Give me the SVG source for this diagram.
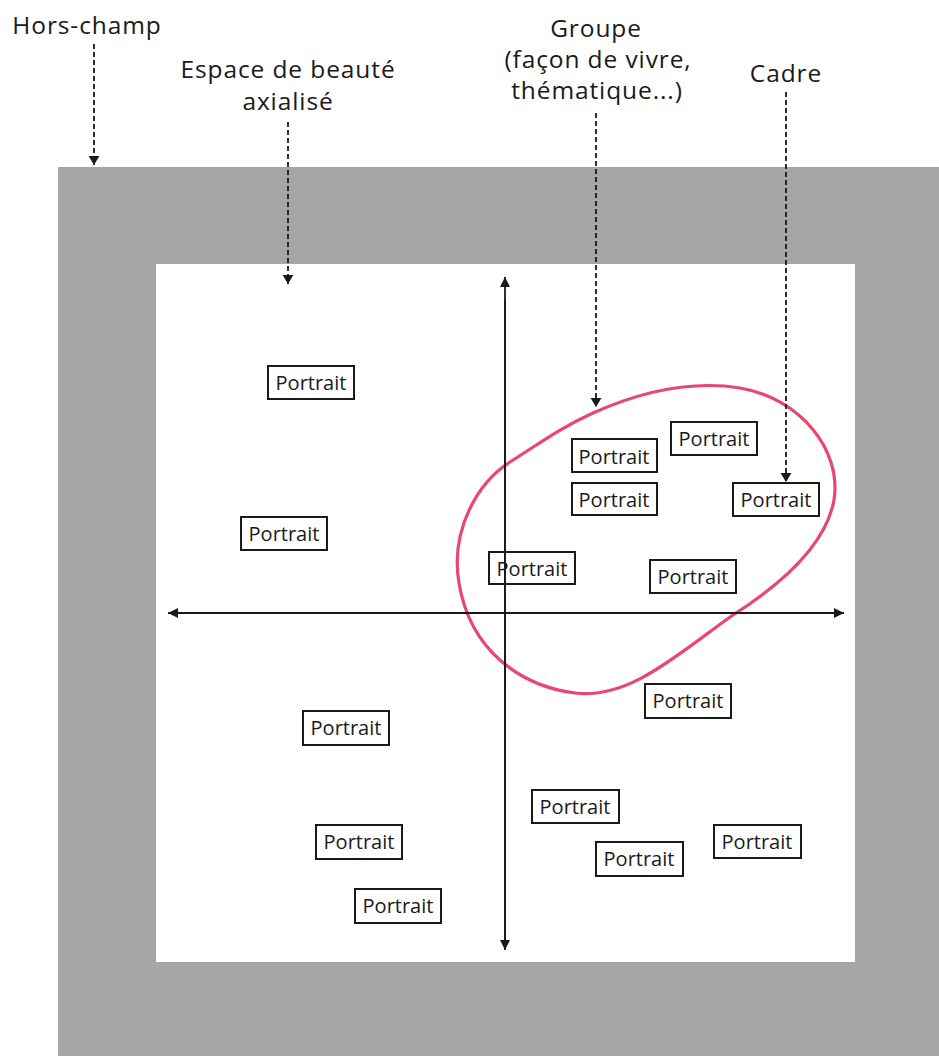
<svg xmlns="http://www.w3.org/2000/svg" width="939" height="1056" viewBox="0 0 939 1056">
<style>
.lbl{font-family:"Open Sans","Noto Sans","Liberation Sans",sans-serif;font-size:24.5px;letter-spacing:0.9px;fill:#1a1a1a;text-anchor:middle}
.pt{font-family:"Open Sans","Noto Sans","Liberation Sans",sans-serif;font-size:20px;fill:#1a1a1a;text-anchor:middle}
.box{fill:#ffffff;stroke:#1a1a1a;stroke-width:2}
.dash{stroke:#1a1a1a;stroke-width:1.8;stroke-dasharray:5 3;fill:none}
.axis{stroke:#1a1a1a;stroke-width:1.8;fill:none}
</style>
<defs>
<marker id="ah" viewBox="0 0 10 10" refX="10" refY="5" markerWidth="10" markerHeight="10" markerUnits="userSpaceOnUse" orient="auto">
<path d="M0,0 L10,5 L0,10 Z" fill="#1a1a1a"/>
</marker>
<marker id="dh" viewBox="0 0 10 12" refX="10" refY="6" markerWidth="9" markerHeight="12" markerUnits="userSpaceOnUse" orient="auto">
<path d="M0,0 L10,6 L0,12 Z" fill="#1a1a1a"/>
</marker>
</defs>
<rect x="0" y="0" width="939" height="1056" fill="#ffffff"/>
<g id="hors-champ-zone"><rect x="58" y="167" width="881" height="889" fill="#a6a6a6"/></g>
<g id="cadre-zone"><rect x="156" y="264" width="699" height="698" fill="#ffffff"/></g>

<g id="labels">
<g id="lbl-hors-champ"><text class="lbl" x="87" y="34">Hors-champ</text></g>
<g id="lbl-espace"><text class="lbl" x="288" y="78">Espace de beauté</text><text class="lbl" x="288" y="110">axialisé</text></g>
<g id="lbl-groupe"><text class="lbl" x="596" y="37">Groupe</text><text class="lbl" x="598" y="68">(façon de vivre,</text><text class="lbl" x="597" y="99">thématique...)</text></g>
<g id="lbl-cadre"><text class="lbl" x="786" y="82">Cadre</text></g>
</g>

<g id="group-loop"><path d="M593,413 C640,392 690,380 740,388 C800,398 842,450 834,500 C826,545 780,585 733,615 C680,652 630,700 575,693 C520,686 470,650 459,583 C450,530 478,482 510,462 C540,443 560,428 593,413 Z" fill="none" stroke="#e8476f" stroke-width="3.2"/></g>

<g id="connectors">
<line class="axis" x1="505" y1="940" x2="505" y2="277" marker-end="url(#ah)"/>
<line class="axis" x1="505" y1="300" x2="505" y2="950" marker-end="url(#ah)"/>
<line class="axis" x1="180" y1="613" x2="844" y2="613" marker-end="url(#ah)"/>
<line class="axis" x1="830" y1="613" x2="168" y2="613" marker-end="url(#ah)"/>
<line class="dash" x1="94" y1="44" x2="94" y2="165" marker-end="url(#dh)"/>
<line class="dash" x1="288" y1="122" x2="288" y2="284" marker-end="url(#dh)"/>
<line class="dash" x1="596" y1="113" x2="596" y2="407" marker-end="url(#dh)"/>
<line class="dash" x1="786" y1="92" x2="786" y2="482" marker-end="url(#dh)"/>
</g>

<g id="p1"><rect class="box" x="268" y="366" width="86" height="33"/><text class="pt" x="311" y="390">Portrait</text></g>
<g id="p2"><rect class="box" x="241" y="517" width="86" height="33"/><text class="pt" x="284" y="541">Portrait</text></g>
<g id="p3"><rect class="box" x="489" y="552" width="86" height="32" style="fill:none"/><text class="pt" x="532" y="576">Portrait</text></g>
<g id="p4"><rect class="box" x="572" y="439" width="85" height="33"/><text class="pt" x="614" y="464">Portrait</text></g>
<g id="p5"><rect class="box" x="572" y="483" width="85" height="32"/><text class="pt" x="614" y="507">Portrait</text></g>
<g id="p6"><rect class="box" x="671" y="422" width="86" height="33"/><text class="pt" x="714" y="446">Portrait</text></g>
<g id="p7"><rect class="box" x="733" y="483" width="86" height="33"/><text class="pt" x="776" y="507">Portrait</text></g>
<g id="p8"><rect class="box" x="650" y="560" width="86" height="33"/><text class="pt" x="693" y="584">Portrait</text></g>
<g id="p9"><rect class="box" x="645" y="684" width="86" height="34"/><text class="pt" x="688" y="708">Portrait</text></g>
<g id="p10"><rect class="box" x="303" y="711" width="86" height="34"/><text class="pt" x="346" y="735">Portrait</text></g>
<g id="p11"><rect class="box" x="532" y="790" width="87" height="33"/><text class="pt" x="575" y="814">Portrait</text></g>
<g id="p12"><rect class="box" x="714" y="825" width="87" height="33"/><text class="pt" x="757" y="849">Portrait</text></g>
<g id="p13"><rect class="box" x="316" y="825" width="86" height="34"/><text class="pt" x="359" y="849">Portrait</text></g>
<g id="p14"><rect class="box" x="596" y="842" width="87" height="34"/><text class="pt" x="639" y="866">Portrait</text></g>
<g id="p15"><rect class="box" x="355" y="889" width="86" height="34"/><text class="pt" x="398" y="913">Portrait</text></g>
</svg>
